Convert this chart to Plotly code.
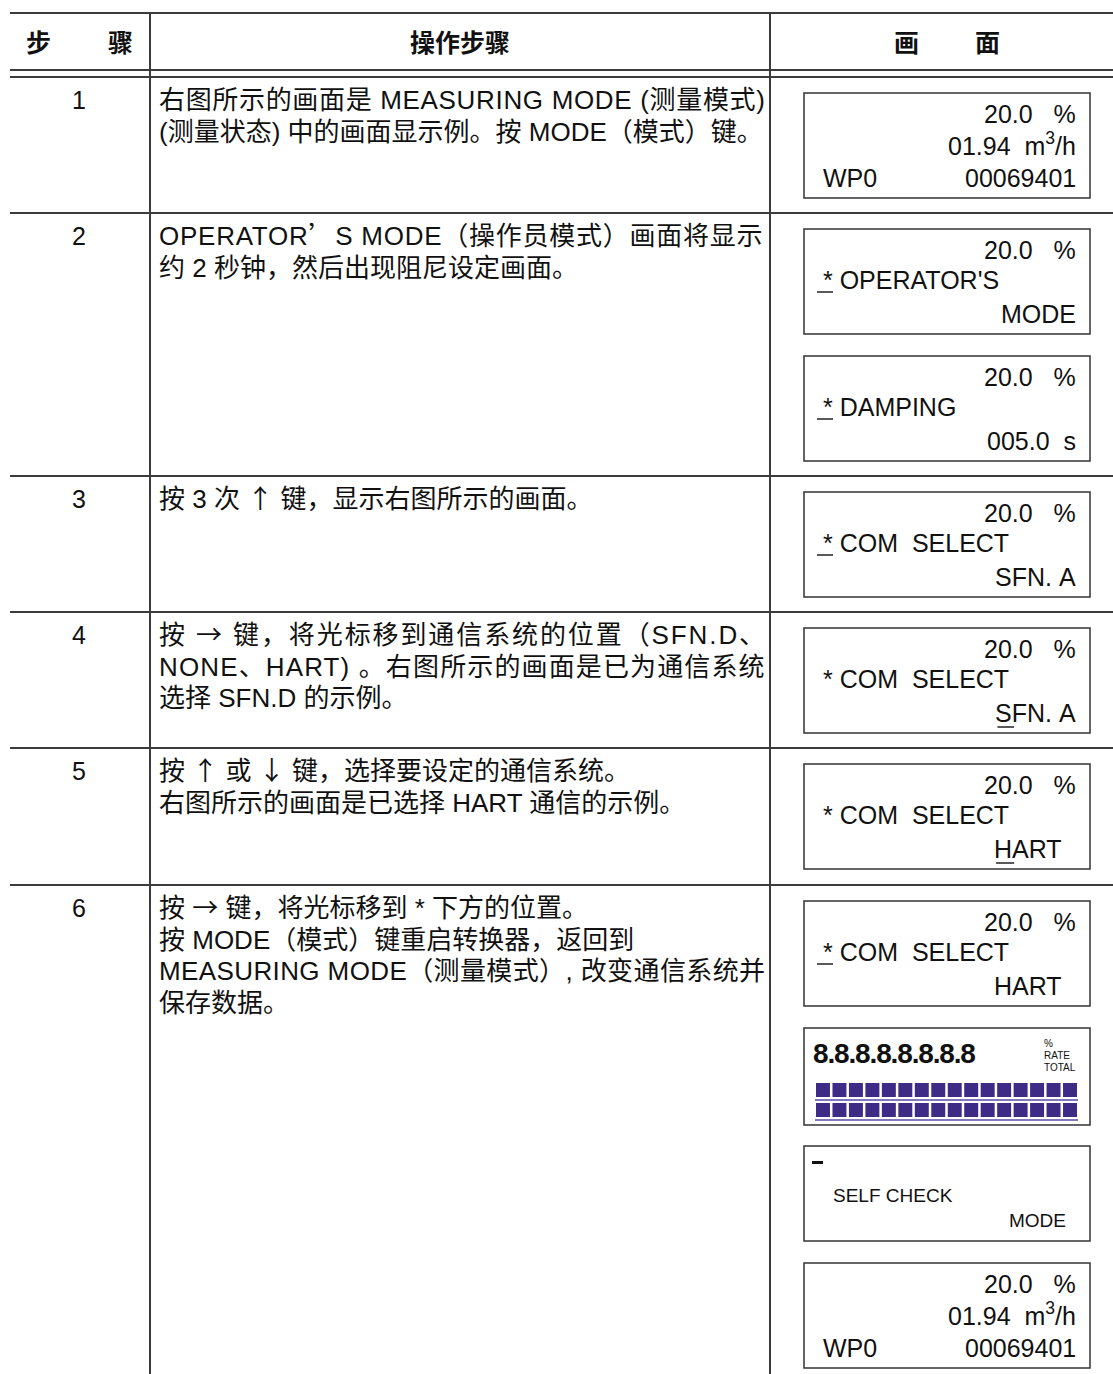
import plotly.graph_objects as go

# ---------------- data ----------------
header_step = ["步", "骤"]
header_ops = "操作步骤"
header_screen = ["画", "面"]

steps = ["1", "2", "3", "4", "5", "6"]

step_text = [
    ["右图所示的画面是 MEASURING MODE (测量模式)",
     "(测量状态) 中的画面显示例。按 MODE（模式）键。"],
    ["OPERATOR’S MODE（操作员模式）画面将显示",
     "约 2 秒钟，然后出现阻尼设定画面。"],
    ["按 3 次 ↑ 键，显示右图所示的画面。"],
    ["按 → 键，将光标移到通信系统的位置（SFN.D、",
     "NONE、HART) 。右图所示的画面是已为通信系统",
     "选择 SFN.D 的示例。"],
    ["按 ↑ 或 ↓ 键，选择要设定的通信系统。",
     "右图所示的画面是已选择 HART 通信的示例。"],
    ["按 → 键，将光标移到 * 下方的位置。",
     "按 MODE（模式）键重启转换器，返回到",
     "MEASURING MODE（测量模式）, 改变通信系统并",
     "保存数据。"],
]

NB = "\u00a0"
screen_lines = {
    "measure": [["", "20.0" + NB * 3 + "%"], ["", "01.94" + NB * 2 + "m<sup>3</sup>/h"], ["WP0", "00069401"]],
    "operator": [["", "20.0" + NB * 3 + "%"], ["*" + NB + "OPERATOR'S", ""], ["", "MODE"]],
    "damping": [["", "20.0" + NB * 3 + "%"], ["*" + NB + "DAMPING", ""], ["", "005.0" + NB * 2 + "s"]],
    "com_sfna_star": [["", "20.0" + NB * 3 + "%"], ["*" + NB + "COM" + NB * 2 + "SELECT", ""], ["", "SFN." + NB + "A"]],
    "com_sfna_s": [["", "20.0" + NB * 3 + "%"], ["*" + NB + "COM" + NB * 2 + "SELECT", ""], ["", "SFN." + NB + "A"]],
    "com_hart_h": [["", "20.0" + NB * 3 + "%"], ["*" + NB + "COM" + NB * 2 + "SELECT", ""], ["", "HART" + NB * 2]],
    "com_hart_star": [["", "20.0" + NB * 3 + "%"], ["*" + NB + "COM" + NB * 2 + "SELECT", ""], ["", "HART" + NB * 2]],
}
screen_cursor = {
    "measure": None, "operator": "star", "damping": "star", "com_sfna_star": "star",
    "com_sfna_s": "last", "com_hart_h": "last", "com_hart_star": "star",
}
test_digits = "8.8.8.8.8.8.8.8"
test_labels = ["%", "RATE", "TOTAL"]
test_segments = 16
selfcheck_lines = ["SELF CHECK", "MODE"]

step_screens = [
    ["measure"],
    ["operator", "damping"],
    ["com_sfna_star"],
    ["com_sfna_s"],
    ["com_hart_h"],
    ["com_hart_star", "test", "selfcheck", "measure"],
]

# ---------------- layout constants ----------------
W, H = 1113, 1374
LINE = "#3c3c3c"
TXT = "#111111"
LATIN = "Liberation Sans, Arial, Noto Sans CJK SC, sans-serif"
CJK_SPAN = "Noto Sans CJK SC"
SPECIAL = "’→↑↓"
row_bounds = [77, 213, 476, 612, 748, 885, 1374]
col_x = [150, 770]
TEXT_X0, TEXT_X1 = 157, 763
BOX_X0, BOX_X1 = 804, 1090
RIGHT_X, LEFT_X = 1078, 821
SFONT = 25
BFONT = 26
screen_heights = {"test": 97, "selfcheck": 95}
GAP = 22

# Liberation Sans advance widths (per 1000 em)
ADV = {' ': 278, NB: 278, '*': 389, '.': 278, '%': 889, '/': 278, "'": 191, '(': 333, ')': 333,
       ',': 278, 'A': 667, 'C': 722, 'D': 722, 'E': 667, 'F': 611, 'G': 778, 'H': 722, 'I': 278,
       'K': 667, 'L': 556, 'M': 833, 'N': 722, 'O': 778, 'P': 667, 'R': 722, 'S': 667,
       'T': 611, 'U': 722, 'W': 944, 's': 500, 'm': 833, 'h': 556}
for d in "0123456789":
    ADV[d] = 556


def text_w(s, size):
    return sum(size if ord(c) >= 0x2000 else ADV.get(c, 600) * size / 1000.0 for c in s)


fig = go.Figure()
shapes = []
ann = []


def add_text(x, y, text, size, anchor="left", bold=False, family=LATIN, color=TXT, yshift=0):
    ann.append(dict(x=x, y=y, xref="x", yref="y", text=("<b>%s</b>" % text) if bold else text,
                    showarrow=False, xanchor=anchor, yanchor="middle", yshift=yshift,
                    font=dict(size=size, family=family, color=color)))


def hline(y, x0=10, x1=W, width=2, color=LINE):
    shapes.append(dict(type="line", x0=x0, x1=x1, y0=y, y1=y, xref="x", yref="y",
                       line=dict(color=color, width=width)))


# table frame
hline(13)
hline(70)
for yb in row_bounds[:-1]:
    hline(yb)
for cx in col_x:
    shapes.append(dict(type="line", x0=cx, x1=cx, y0=13, y1=H, xref="x", yref="y",
                       line=dict(color=LINE, width=2)))

# header
add_text(38, 43, header_step[0], 25, "center", True)
add_text(120, 43, header_step[1], 25, "center", True)
add_text(460, 43, header_ops, 25, "center", True)
add_text(906, 43, header_screen[0], 25, "center", True)
add_text(987, 43, header_screen[1], 25, "center", True)


def body_html(ln, justify):
    parts = []
    for c in ln:
        if c in SPECIAL:
            parts.append('<span style="font-family:%s">%s</span>' % (CJK_SPAN, c))
        else:
            parts.append(c)
    html = "".join(parts)
    if justify:
        extra = (TEXT_X1 - TEXT_X0) - text_w(ln, BFONT)
        ls = extra / max(len(ln) - 1, 1)
        html = '<span style="letter-spacing:%.2fpx">%s</span>' % (ls, html)
    return html


# rows
for i, (num, lines) in enumerate(zip(steps, step_text)):
    top = row_bounds[i]
    y0 = top + 23
    add_text(79, y0, num, 25, "center")
    for j, ln in enumerate(lines):
        natural = text_w(ln, BFONT)
        justify = (j < len(lines) - 1) and natural > 0.85 * (TEXT_X1 - TEXT_X0)
        ys = 2.5 if any(c in SPECIAL for c in ln) else 0
        add_text(TEXT_X0, y0 + j * 31.6, body_html(ln, justify), BFONT, "left", yshift=ys)


def rect(x0, y0, x1, y1, color="#333", width=1.5, fill=None):
    d = dict(type="rect", x0=x0, x1=x1, y0=y0, y1=y1, xref="x", yref="y",
             line=dict(color=color, width=width))
    if fill:
        d["fillcolor"] = fill
        d["line"] = dict(width=0)
    shapes.append(d)


def draw_text_screen(name, top):
    h = 105
    rect(BOX_X0, top, BOX_X1, top + h)
    offs = [21, 51, 85]
    lines = screen_lines[name]
    for (left, right), off in zip(lines, offs):
        if left:
            add_text(LEFT_X, top + off, left, SFONT, "left")
        if right:
            add_text(RIGHT_X, top + off, right, SFONT, "right")
    cur = screen_cursor[name]
    if cur == "star":
        uy = top + offs[1] + 12
        shapes.append(dict(type="line", x0=LEFT_X - 4, x1=LEFT_X + 12, y0=uy, y1=uy,
                           xref="x", yref="y", line=dict(color="#222", width=1.5)))
    elif cur == "last":
        txt = lines[2][1]
        x0 = RIGHT_X - text_w(txt, SFONT)
        uy = top + offs[2] + 14
        shapes.append(dict(type="line", x0=x0, x1=x0 + text_w(txt[0], SFONT), y0=uy, y1=uy,
                           xref="x", yref="y", line=dict(color="#222", width=1.5)))
    return h


def draw_test(top):
    h = screen_heights["test"]
    rect(BOX_X0, top, BOX_X1, top + h)
    dsize = 28
    ls = (163 - text_w(test_digits, dsize)) / (len(test_digits) - 1)
    add_text(811, top + 25, '<span style="letter-spacing:%.2fpx">%s</span>' % (ls, test_digits),
             dsize, "left", True)
    for k, lab in enumerate(test_labels):
        add_text(1042, top + 15 + k * 12, lab, 10, "left")
    x_start, x_end = 816, 1077
    pitch = (x_end - x_start + 2.5) / test_segments
    for r, (ya, yb, yl) in enumerate([(55, 69, 72), (75, 89, 92)]):
        for k in range(test_segments):
            xa = x_start + k * pitch
            rect(xa, top + ya, xa + pitch - 2.5, top + yb, fill="#3d2b86")
        hline(top + yl, x_start - 1, x_end + 1, width=1.5, color="#5a4ba8")
    return h


def draw_selfcheck(top):
    h = screen_heights["selfcheck"]
    rect(BOX_X0, top, BOX_X1, top + h)
    rect(812, top + 15, 823, top + 18, fill="#111")
    add_text(831, top + 49, selfcheck_lines[0], 19, "left")
    add_text(1068, top + 74, selfcheck_lines[1], 19, "right")
    return h


for i, scr in enumerate(step_screens):
    top = row_bounds[i] + 16
    for name in scr:
        if name == "test":
            h = draw_test(top)
        elif name == "selfcheck":
            h = draw_selfcheck(top)
        else:
            h = draw_text_screen(name, top)
        top += h + GAP - (1 if name == "test" else 0)

fig.update_layout(
    width=W, height=H, margin=dict(l=0, r=0, t=0, b=0),
    paper_bgcolor="white", plot_bgcolor="white", showlegend=False,
    xaxis=dict(range=[0, W], visible=False, fixedrange=True),
    yaxis=dict(range=[H, 0], visible=False, fixedrange=True),
    shapes=shapes, annotations=ann,
)

fig.write_html("out.html", config={"displayModeBar": False},
               post_script="document.body.style.margin='0';document.body.style.overflow='hidden';")
